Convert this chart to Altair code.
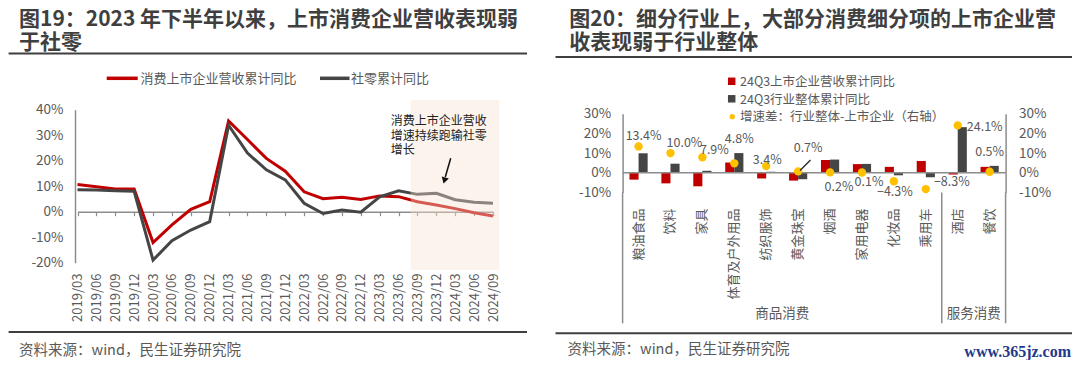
import altair as alt
import pandas as pd

W, H = 1064, 352          # drawing area (page minus 8px margin)
def X(px):  # page x -> chart x
    return px - 8
def Y(py):  # page y -> chart y
    return py - 8

FONT = "Noto Sans CJK SC"
RED = "#C00000"
DARK = "#454545"
TXT = "#595959"
AX = "#8C8C8C"
TITLE = "#3F3F3F"
GOLD = "#FFC000"

# ---------------- data: left chart ----------------
DATES = ["2019/03", "2019/06", "2019/09", "2019/12", "2020/03", "2020/06", "2020/09",
         "2020/12", "2021/03", "2021/06", "2021/09", "2021/12", "2022/03", "2022/06",
         "2022/09", "2022/12", "2023/03", "2023/06", "2023/09", "2023/12", "2024/03",
         "2024/06", "2024/09"]
LISTED_REV = [10.7, 9.8, 8.9, 8.9, -12.1, -5.2, 0.9, 3.9, 35.6, 28.3, 20.9, 15.9, 7.8,
              5.1, 5.7, 4.8, 6.2, 5.9, 3.9, 2.6, 1.2, -0.4, -1.7]
RETAIL = [8.6, 8.5, 8.2, 8.0, -19.0, -11.4, -7.2, -3.9, 33.9, 23.0, 16.4, 12.5, 3.3,
          -0.7, 0.7, -0.2, 5.8, 8.2, 6.8, 7.2, 4.7, 3.7, 3.3]
LEFT_TICKS = [-20, -10, 0, 10, 20, 30, 40]
LEFT_SERIES = ["消费上市企业营收累计同比", "社零累计同比"]

# ---------------- data: right chart ----------------
CATS = ["粮油食品", "饮料", "家具", "体育及户外用品", "纺织服饰", "黄金珠宝", "烟酒",
        "家用电器", "化妆品", "乘用车", "酒店", "餐饮"]
LISTED_Q3 = [-3.5, -5.4, -6.9, 5.2, -2.9, -4.0, 6.5, 4.4, 3.0, 6.0, -0.9, 3.0]
INDUSTRY_Q3 = [9.9, 4.6, 1.0, 10.0, 0.5, -3.3, 6.7, 4.5, -1.3, -2.3, 23.2, 3.5]
GAP = [13.4, 10.0, 7.9, 4.8, 3.4, 0.7, 0.2, 0.1, -4.3, -8.3, 24.1, 0.5]
RIGHT_SERIES = ["24Q3上市企业营收累计同比", "24Q3行业整体累计同比"]
GAP_NAME = "增速差：行业整体-上市企业（右轴）"
RIGHT_TICKS = [-10, 0, 10, 20, 30]
GROUPS = ["商品消费", "服务消费"]
GROUP_SIZE = [10, 2]
# label placement offsets (pixels) for the gap labels
LABEL_DX = [5, 14, 12, 5, 1, 10, 9, 7, 1, 26, 27, 0]
LABEL_DY = [-10.5, -10, -7, -24, -6, -23, 14.5, 9, 10.5, -7, 2, -20]

ONE = pd.DataFrame({"k": [1]})


def text(x, y, s, size=13, color=TXT, weight="normal", align="left",
         baseline="middle", font=FONT, angle=0):
    return alt.Chart(ONE).mark_text(
        text=s, fontSize=size, color=color, fontWeight=weight, align=align,
        baseline=baseline, font=font, angle=angle
    ).encode(x=alt.value(X(x)), y=alt.value(Y(y)))


def hline(x1, x2, y, color=TITLE, width=2):
    return alt.Chart(ONE).mark_rule(color=color, strokeWidth=width).encode(
        x=alt.value(X(x1)), x2=alt.value(X(x2)), y=alt.value(Y(y)))


layers = []

# ======================= LEFT CHART =======================
lx = alt.Scale(type="point", domain=DATES, range=[X(77.5), X(493)], padding=0)
ly = alt.Scale(domain=[-20, 40], range=[Y(262.7), Y(109.7)], nice=False, zero=False)

red_df = pd.DataFrame({"date": DATES, "v": LISTED_REV})
gray_df = pd.DataFrame({"date": DATES, "v": RETAIL})

red_line = alt.Chart(red_df).mark_line(color=RED, strokeWidth=3).encode(
    x=alt.X("date:O", sort=DATES, scale=lx,
            axis=alt.Axis(orient="bottom", offset=Y(270) - H, domain=False, ticks=False,
                          labelAngle=-90, labelAlign="right", labelBaseline="middle",
                          labelPadding=3, labelFontSize=13, labelColor=TXT, labelFont=FONT,
                          labelOverlap=False, title=None, grid=False)),
    y=alt.Y("v:Q", scale=ly,
            axis=alt.Axis(orient="left", offset=-X(75), values=LEFT_TICKS,
                          labelExpr="datum.value + '%'", domain=True, domainColor=AX,
                          domainWidth=1.5, ticks=False, grid=False, labelPadding=12,
                          labelFontSize=13.5, labelColor=TXT, labelFont=FONT,
                          labelOverlap=False, title=None)),
)
gray_line = alt.Chart(gray_df).mark_line(color=DARK, strokeWidth=3).encode(
    x=alt.X("date:O", sort=DATES, scale=lx,
            axis=alt.Axis(orient="bottom", offset=Y(211.7) - H, labels=False, ticks=True,
                          tickSize=4, tickColor=AX, tickWidth=1.2, domain=True,
                          domainColor=AX, domainWidth=1.5, title=None, grid=False)),
    y=alt.Y("v:Q", scale=ly, axis=None),
)
shade = alt.Chart(ONE).mark_rect(fill="#F7E4D0", opacity=0.4).encode(
    x=alt.value(X(410.7)), x2=alt.value(X(499.3)), y=alt.value(Y(100)), y2=alt.value(Y(270)))

layers += [red_line, gray_line, shade]

# annotation
for i, s in enumerate(["消费上市企业营收", "增速持续跑输社零", "增长"]):
    layers.append(text(390.7, 121 + i * 14.5, s, size=12, color="#222222"))
layers.append(alt.Chart(ONE).mark_rule(color="#111111", strokeWidth=1.5).encode(
    x=alt.value(X(450.7)), x2=alt.value(X(445.3)), y=alt.value(Y(158.3)), y2=alt.value(Y(177))))
layers.append(alt.Chart(ONE).mark_point(shape="triangle-down", filled=True, color="#111111",
                                        size=55, angle=16, opacity=1).encode(
    x=alt.value(X(444.4)), y=alt.value(Y(180.5))))

# legend
layers.append(alt.Chart(ONE).mark_rule(color=RED, strokeWidth=3.5).encode(
    x=alt.value(X(106.7)), x2=alt.value(X(137.7)), y=alt.value(Y(78.3))))
layers.append(text(140.5, 79.3, LEFT_SERIES[0], size=13))
layers.append(alt.Chart(ONE).mark_rule(color=DARK, strokeWidth=3.5).encode(
    x=alt.value(X(320)), x2=alt.value(X(349.5)), y=alt.value(Y(78.3))))
layers.append(text(351, 79.3, LEFT_SERIES[1], size=13))

# title, rules, source
layers.append(text(19, 25.5, "图19：2023 年下半年以来，上市消费企业营收表现弱", size=21,
                   color=TITLE, weight="bold", baseline="alphabetic"))
layers.append(text(19, 49, "于社零", size=21, color=TITLE, weight="bold",
                   baseline="alphabetic"))
layers.append(hline(8.6, 527, 53.5))
layers.append(hline(8.6, 527, 332))
layers.append(text(19, 351, "资料来源：wind，民生证券研究院", size=14.5))

# ======================= RIGHT CHART =======================
R0, R1 = 622.6, 1005.6
STEP = (R1 - R0) / len(CATS)
RY_BOT, RY_TOP = 192.4, 113.8
PPU = (RY_BOT - RY_TOP) / 40.0

rx_band = alt.Scale(domain=CATS, range=[X(R0), X(R1)], paddingInner=0.43, paddingOuter=0.215)
rx_q = alt.Scale(domain=[0, len(CATS)], range=[X(R0), X(R1)], nice=False, zero=False)
ry = alt.Scale(domain=[-10, 30], range=[Y(RY_BOT), Y(RY_TOP)], nice=False, zero=False)

bar_df = pd.DataFrame({
    "cat": CATS * 2,
    "series": [RIGHT_SERIES[0]] * len(CATS) + [RIGHT_SERIES[1]] * len(CATS),
    "v": LISTED_Q3 + INDUSTRY_Q3,
})
bars = alt.Chart(bar_df).mark_bar().encode(
    x=alt.X("cat:N", sort=CATS, scale=rx_band,
            axis=alt.Axis(orient="bottom", offset=Y(205) - H, domain=False, ticks=False,
                          labelAngle=-90, labelAlign="right", labelBaseline="middle",
                          labelPadding=3, labelFontSize=13, labelColor=TXT, labelFont=FONT,
                          labelOverlap=False, title=None, grid=False)),
    xOffset=alt.XOffset("series:N", sort=RIGHT_SERIES,
                        scale=alt.Scale(domain=RIGHT_SERIES)),
    y=alt.Y("v:Q", scale=ry,
            axis=alt.Axis(orient="left", offset=-X(R0), values=RIGHT_TICKS,
                          labelExpr="datum.value + '%'", domain=True, domainColor=AX,
                          domainWidth=1.5, ticks=False, grid=False, labelPadding=12,
                          labelFontSize=13.5, labelColor=TXT, labelFont=FONT,
                          labelOverlap=False, title=None)),
    color=alt.Color("series:N", scale=alt.Scale(domain=RIGHT_SERIES, range=[RED, DARK]),
                    legend=None),
)
zero_df = pd.DataFrame({"v": [0]})
zero_line = alt.Chart(zero_df).mark_rule(color=AX, strokeWidth=1.5).encode(
    x=alt.value(X(R0)), x2=alt.value(X(R1)), y=alt.Y("v:Q", scale=ry, axis=None))

gap_df = pd.DataFrame({"idx": list(range(len(CATS))), "gap": GAP,
                       "dx": LABEL_DX, "dy": LABEL_DY})
dots = alt.Chart(gap_df).transform_calculate(pos="datum.idx + 0.5").mark_circle(
    color=GOLD, size=70, opacity=1).encode(
    x=alt.X("pos:Q", scale=rx_q, axis=None),
    y=alt.Y("gap:Q", scale=ry,
            axis=alt.Axis(orient="right", offset=X(R1) - W, values=RIGHT_TICKS,
                          labelExpr="datum.value + '%'", domain=True, domainColor=AX,
                          domainWidth=1.5, ticks=False, grid=False, labelPadding=13,
                          labelFontSize=13.5, labelColor=TXT, labelFont=FONT,
                          labelOverlap=False, title=None)),
)
labels = alt.Chart(gap_df).transform_calculate(
    lpos=f"datum.idx + 0.5 + datum.dx / {STEP}",
    lval=f"datum.gap - datum.dy / {PPU}",
    lab="format(datum.gap, '.1f') + '%'",
).mark_text(fontSize=12.5, color=TXT, font=FONT, align="center", baseline="middle").encode(
    x=alt.X("lpos:Q", scale=rx_q, axis=None),
    y=alt.Y("lval:Q", scale=ry, axis=None),
    text="lab:N",
)
leader = alt.Chart(ONE).mark_rule(color="#222222", strokeWidth=1.2).encode(
    x=alt.value(X(800)), x2=alt.value(X(810.5)), y=alt.value(Y(170.5)), y2=alt.value(Y(160)))

bounds = [0]
for n in GROUP_SIZE:
    bounds.append(bounds[-1] + n)
div_df = pd.DataFrame({"pos": bounds})
dividers = alt.Chart(div_df).mark_rule(color=AX, strokeWidth=1.5).encode(
    x=alt.X("pos:Q", scale=rx_q, axis=None), y=alt.value(Y(RY_BOT)), y2=alt.value(Y(323.3)))
grp_df = pd.DataFrame({"mid": [(bounds[i] + bounds[i + 1]) / 2 for i in range(len(GROUPS))],
                       "g": GROUPS})
grp_labels = alt.Chart(grp_df).mark_text(fontSize=13.5, color=TXT, font=FONT,
                                         baseline="middle").encode(
    x=alt.X("mid:Q", scale=rx_q, axis=None), y=alt.value(Y(314.3)), text="g:N")

layers += [bars, zero_line, dividers, grp_labels, dots, leader, labels]

# legend
layers.append(alt.Chart(ONE).mark_square(color=RED, size=56, opacity=1).encode(
    x=alt.value(X(731.7)), y=alt.value(Y(81.3))))
layers.append(text(740, 82, RIGHT_SERIES[0], size=12.5))
layers.append(alt.Chart(ONE).mark_square(color=DARK, size=56, opacity=1).encode(
    x=alt.value(X(731.7)), y=alt.value(Y(98.8))))
layers.append(text(740, 99.5, RIGHT_SERIES[1], size=12.5))
layers.append(alt.Chart(ONE).mark_circle(color=GOLD, size=28, opacity=1).encode(
    x=alt.value(X(732.3)), y=alt.value(Y(116.7))))
layers.append(text(740, 117.3, GAP_NAME, size=12.5))

# title, rules, source, site
layers.append(text(569.3, 25.5, "图20：细分行业上，大部分消费细分项的上市企业营", size=21,
                   color=TITLE, weight="bold", baseline="alphabetic"))
layers.append(text(569.3, 49, "收表现弱于行业整体", size=21, color=TITLE, weight="bold",
                   baseline="alphabetic"))
layers.append(hline(555.5, 1072, 57))
layers.append(hline(555.5, 1072, 333.3))
layers.append(text(567.5, 349.5, "资料来源：wind，民生证券研究院", size=14.5))
layers.append(text(1071, 352, "www.365jz.com", size=16, color="#1F3A8A",
                   font="Liberation Serif", weight="bold", align="right"))

chart = alt.layer(*layers).resolve_scale(
    x="independent", y="independent", color="independent"
).resolve_axis(
    x="independent", y="independent"
).properties(
    width=W, height=H, autosize=alt.AutoSizeParams(type="none"), padding=0
).configure_view(stroke=None)

chart.save("out.html", embed_options={"renderer": "svg", "actions": False})
